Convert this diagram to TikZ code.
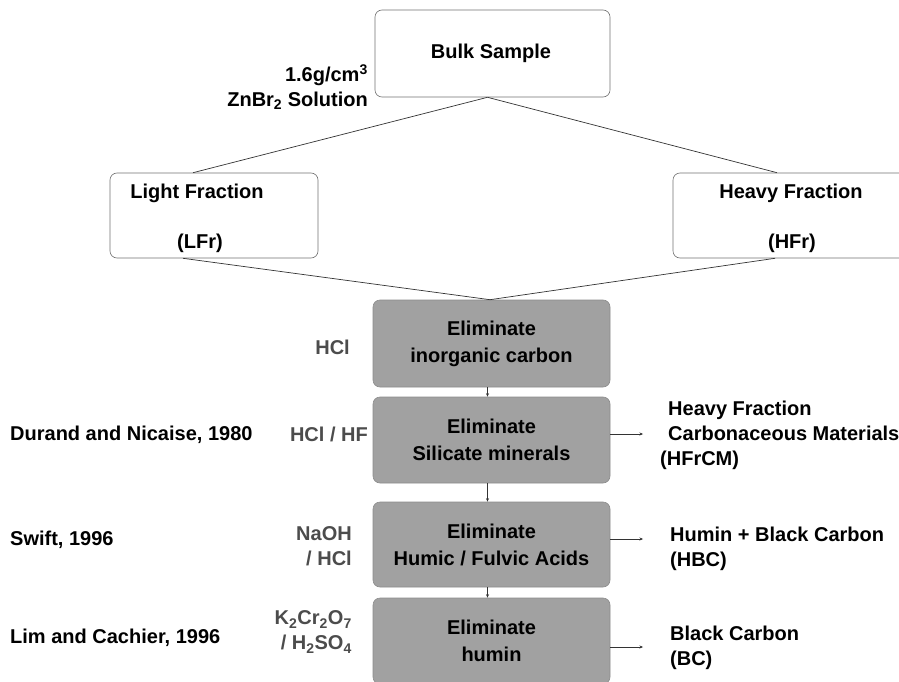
\documentclass[tikz,border=0pt]{standalone}
\usepackage{fontspec}
\setmainfont{Liberation Sans}
\usetikzlibrary{arrows.meta,calc}
\begin{document}
\begin{tikzpicture}[x=1pt,y=-1pt,
  every node/.style={font=\fontsize{20}{25}\selectfont\bfseries, inner sep=0pt},
  wbox/.style={draw=black!55, line width=0.6pt, rounded corners=7pt, fill=white},
  gbox/.style={draw=black!45, line width=0.6pt, rounded corners=7pt, fill=black!37,
     minimum width=237pt, align=center, font=\fontsize{20}{27}\selectfont\bfseries},
  conn/.style={draw=black!80, line width=0.7pt},
  small/.style={conn, -{Stealth[length=3.5pt,width=3pt]}},
  reag/.style={text=black!70, align=right, anchor=east},
  ref/.style={anchor=west},
  res/.style={anchor=west, align=left}
]
\clip (0,0) rectangle (899,682);
\fill[white] (0,0) rectangle (899,682);

% top boxes
\node[wbox, minimum width=235pt, minimum height=87pt] (bulk) at (492.5,53.5) {};
\node (bulkt) at (491,53) {Bulk Sample};

\node[wbox, minimum width=208pt, minimum height=85pt] (lf) at (214,215.5) {};
\node (lft1) at (197,193) {Light Fraction};
\node (lft2) at (200,243) {(LFr)};

\node[wbox, minimum width=236pt, minimum height=85pt] (hf) at (791,215.5) {};
\node (hft1) at (791,193) {Heavy Fraction};
\node (hft2) at (792,243) {(HFr)};

\node[align=right, anchor=east] (dens) at (368,87) {1.6g/cm\textsuperscript{3}\\ZnBr\textsubscript{2} Solution};

% elimination boxes
\node[gbox, minimum height=87pt] (e1) at (491.5,343.5) {Eliminate\\inorganic carbon};
\node[gbox, minimum height=86pt] (e2) at (491.5,440) {Eliminate\\Silicate minerals};
\node[gbox, minimum height=85pt] (e3) at (491.5,544.5) {Eliminate\\Humic / Fulvic Acids};
\node[gbox, minimum height=86pt] (e4) at (491.5,641) {Eliminate\\humin};

% connectors from top
\coordinate (bt) at ($(bulk.south)+(-5,0)$);
\draw[conn] (bt) -- ($(lf.north)+(-21,0)$);
\draw[conn] (bt) -- ($(hf.north)+(-14,0)$);
\coordinate (et) at ($(e1.north)+(-1.5,0)$);
\draw[conn] ($(lf.south)+(-31,0)$) -- (et);
\draw[conn] ($(hf.south)+(-16,0)$) -- (et);

% small vertical arrows
\draw[small] ($(e1.south)+(-4,0)$) -- ($(e2.north)+(-4,0)$);
\draw[small] ($(e2.south)+(-4,0)$) -- ($(e3.north)+(-4,0)$);
\draw[small] ($(e3.south)+(-4,0)$) -- ($(e4.north)+(-4,0)$);

% right arrows
\coordinate (r2) at (643,434);
\coordinate (r3) at (643,539);
\coordinate (r4) at (643,647);
\draw[small] (e2.east |- r2) -- (r2);
\draw[small] (e3.east |- r3) -- (r3);
\draw[small] (e4.east |- r4) -- (r4);

% reagents
\node[reag] (hcl) at (350,347) {HCl};
\node[reag] (hclhf) at (368,434) {HCl / HF};
\node[reag] (naoh) at (352,546) {NaOH\\/ HCl};
\node[reag] (kcr) at (352,632) {K\textsubscript{2}Cr\textsubscript{2}O\textsubscript{7}\\/ H\textsubscript{2}SO\textsubscript{4}};

% references
\node[ref] (r1980) at (10,435) {Durand and Nicaise, 1980};
\node[ref] (rswift) at (10,540) {Swift, 1996};
\node[ref] (rlim) at (10,638) {Lim and Cachier, 1996};

% results
\node[res] (hfrcm) at (660,435) {\hspace*{8pt}Heavy Fraction\\\hspace*{8pt}Carbonaceous Materials\\(HFrCM)};
\node[res] (hbc) at (670,549) {Humin + Black Carbon\\(HBC)};
\node[res] (bc) at (670,648) {Black Carbon\\(BC)};
\end{tikzpicture}
\end{document}
